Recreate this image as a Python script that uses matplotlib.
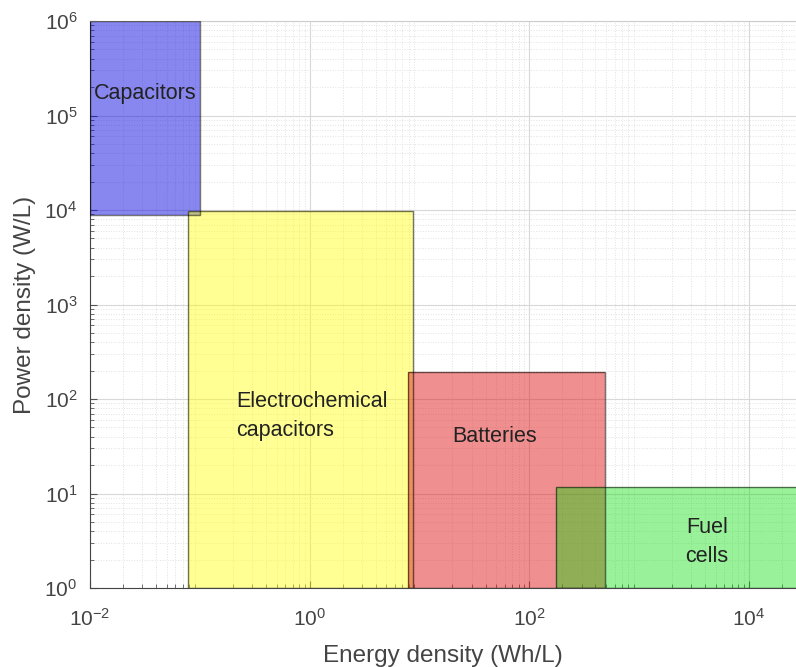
import matplotlib
matplotlib.use("Agg")
import matplotlib.pyplot as plt
from matplotlib.patches import Rectangle
import numpy as np

plt.rcParams['font.family'] = ['Liberation Sans', 'DejaVu Sans']
plt.rcParams['mathtext.fontset'] = 'custom'
plt.rcParams['mathtext.rm'] = 'Liberation Sans'
plt.rcParams['mathtext.it'] = 'Liberation Sans'
plt.rcParams['axes.unicode_minus'] = False

names = ["Capacitors", "Electrochemical\ncapacitors", "Batteries", "Fuel\ncells"]
energy_min = [0.01, 0.078, 7.8, 175]
energy_max = [0.1, 8.7, 490, 1e6]
power_min = [8900, 1, 1, 1]
power_max = [1e6, 9700, 195, 11.8]
colors = ["#1010e0", "#ffff10", "#e02020", "#00dd00"]
alphas = [0.5, 0.45, 0.5, 0.4]
label_x = [0.0316, 0.215, 48, 4150]
label_y = [1.7e5, 66, 40, 3.1]
label_ha = ["center", "left", "center", "center"]

fig = plt.figure(figsize=(7.96, 6.67), dpi=100)
ax = fig.add_axes([0.1131, 0.1184, 0.8869, 0.8501])
ax.set_xscale('log')
ax.set_yscale('log')
ax.set_xlim(1e-2, 10**4.43)
ax.set_ylim(1, 1e6)

for e0, e1, p0, p1, c, a in zip(energy_min, energy_max, power_min, power_max, colors, alphas):
    ax.add_patch(Rectangle((e0, p0), e1 - e0, p1 - p0, facecolor=c, alpha=a,
                           edgecolor='none', zorder=2))
    ax.add_patch(Rectangle((e0, p0), e1 - e0, p1 - p0, facecolor='none',
                           edgecolor=(0, 0, 0, 0.55), linewidth=1.0, zorder=3))

for n, x, y, ha in zip(names, label_x, label_y, label_ha):
    ax.text(x, y, n, ha=ha, va='center', fontsize=15.5, color='#222222',
            linespacing=1.5, zorder=4)

ax.grid(True, which='major', color='#d8d8d8', linewidth=0.8, zorder=0)
ax.grid(True, which='minor', color='#e2e2e2', linewidth=0.7, linestyle=':', zorder=0)
ax.set_axisbelow(True)

ax.set_xticks([1e-2, 1e0, 1e2, 1e4])
ax.set_yticks([1e0, 1e1, 1e2, 1e3, 1e4, 1e5, 1e6])
ax.tick_params(which='both', direction='in', colors='#555555', labelsize=15,
               top=False, right=False)
ax.tick_params(axis='x', which='major', pad=14)
ax.tick_params(axis='y', which='major', pad=9)
ax.tick_params(which='major', length=5)
ax.tick_params(which='minor', length=3)
for lab in ax.get_xticklabels() + ax.get_yticklabels():
    lab.set_color('#444444')

for s in ['left', 'bottom']:
    ax.spines[s].set_color('#444444')
ax.spines['top'].set_color('#cccccc')
ax.spines['right'].set_visible(False)

ax.set_xlabel("Energy density (Wh/L)", fontsize=17.5, color='#444444', labelpad=11)
ax.set_ylabel("Power density (W/L)", fontsize=17.5, color='#444444', labelpad=6)

fig.savefig("out.png", dpi=100)
